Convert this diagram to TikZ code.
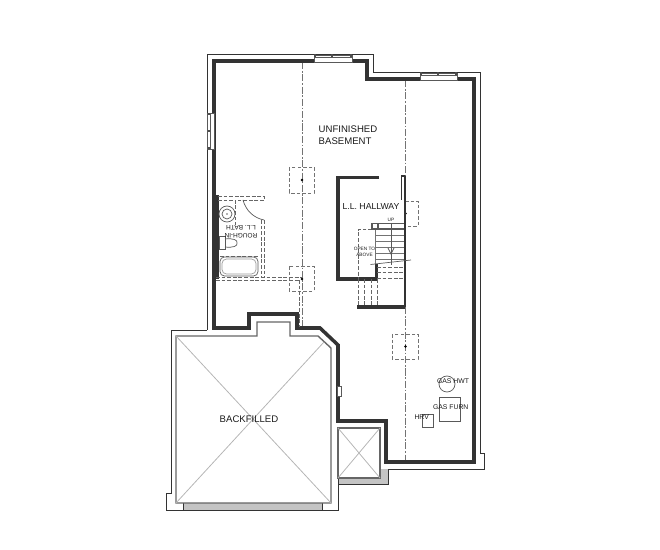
\documentclass[tikz,border=0pt]{standalone}
\usepackage{fontspec}
\setmainfont{Liberation Sans}
\usetikzlibrary{scopes}
\definecolor{wallgrey}{HTML}{333333}
\definecolor{bandgrey}{HTML}{C4C4C4}
\definecolor{xgrey}{HTML}{B5B5B5}
\begin{document}
\begin{tikzpicture}[
    x=0.02cm,y=-0.02cm,
    wall/.style={draw=wallgrey,line width=2pt},
    outer/.style={draw=black!80,line width=0.5pt},
    inner/.style={draw=black!60,line width=0.8pt},
    cross/.style={draw=xgrey,line width=0.45pt},
    beam/.style={draw=black!55,line width=0.4pt,dash pattern=on 4pt off 1pt on 1pt off 1pt},
    post/.style={draw=black!55,line width=0.45pt,dash pattern=on 2pt off 1.2pt},
    partition/.style={draw=black!60,line width=0.55pt,dash pattern=on 2.2pt off 1pt},
    fixture/.style={draw=black!65,line width=0.4pt},
    tread/.style={draw=black!55,line width=0.6pt},
    label/.style={text=black!90,font=\fontsize{5.45pt}{6.6pt}\selectfont,align=left,inner sep=0pt},
    tiny/.style={text=black!90,font=\fontsize{3.9pt}{4.4pt}\selectfont,inner sep=0pt,align=center}
]
    \useasboundingbox (0,0) rectangle (660,550);
    % grey bands
    \fill[bandgrey] (183,503) rectangle (322,510);
    \fill[bandgrey] (338,478) rectangle (388,484);
    \fill[bandgrey] (380,469) rectangle (388,484);
    % outer line
    {[outer]
        \draw (207,330) -- (207,54) -- (373,54) -- (373,72) -- (480,72) -- (480,453) -- (484.5,453)
            -- (484.5,469) -- (388,469) -- (388,484) -- (338,484);
        \draw (207,330) -- (171,330) -- (171,493) -- (166.5,493) -- (166.5,510) -- (338,510) -- (338,428);
        \draw (183,503) -- (183,510);
        \draw (322,503) -- (322,510);
    }
    % backfilled area
    {[inner]
        \draw (176,336) -- (257,336) -- (257,322) -- (290,322) -- (290,336) -- (318,336)
            -- (331,348) -- (331,503) -- (176,503) -- cycle;
        \draw (338,428) rectangle (380,478);
    }
    {[cross]
        \draw (176,336) -- (331,503);
        \draw (176,503) -- (324,342);
        \draw (338,428) -- (380,478);
        \draw (338,478) -- (380,428);
    }
    % beams and posts
    {[beam]
        \draw (302,62) -- (302,327);
        \draw (405.5,80) -- (405.5,176);
        \draw (405.5,307) -- (405.5,461);
    }
    {[post]
        \draw (289,167) rectangle (314,193);
        \draw (289,266) rectangle (314,291);
        \draw (392,334) rectangle (418,359);
        \draw (405,201) -- (418,201) -- (418,226) -- (405,226);
    }
    \foreach \px/\py in {302/180,302/279,405.5/346.5,405.5/213.5}
        \fill[black] (\px,\py) circle (1.4);
    % main walls
    \draw[wall] (214,61) -- (367,61) -- (367,79) -- (474,79) -- (474,462) -- (386,462) -- (386,421)
        -- (338,421) -- (338,345) -- (320,328) -- (297,328) -- (297,314) -- (249,314) -- (249,328)
        -- (214,328) -- cycle;
    \draw[wall] (379,177.5) -- (338,177.5) -- (338,279) -- (376.5,279) -- (376.5,264);
    \draw[wall] (357,307) -- (405,307);
    \fill[wallgrey] (212,195) rectangle (218.5,279);
    \draw[draw=wallgrey,line width=1.2pt] (404.8,176) -- (404.8,307);
    \draw[draw=wallgrey,line width=0.6pt] (401.5,200) -- (401.5,176) -- (405,176);
    % windows
    {[fixture,fill=white]
        \filldraw (314,55) rectangle (352,62.5);
        \filldraw (420,73) rectangle (457,80.5);
        \filldraw (207.5,113) rectangle (214.5,149);
        \filldraw (337.5,386) rectangle (341,396);
    }
    {[fixture]
        \draw (314,57.5) -- (352,57.5);
        \draw (420,75.5) -- (457,75.5);
        \draw (210,113) -- (210,149);
    }
    % bath
    {[partition]
        \draw (218,196) -- (264,196) -- (264,200.5) -- (235,200.5) -- (235,225);
        \draw (218,200.5) -- (235,200.5);
        \draw (261,220) -- (261,277);
        \draw (264,220) -- (264,277);
        \draw (216,277) -- (302,277);
        \draw (216,280) -- (299,280);
        \draw (299,280) -- (299,327);
        \draw (220,256) -- (258,256);
    }
    {[fixture]
        \draw (243,200) .. controls (246,211) and (254,218) .. (264,220);
        \draw (227,214) circle (8);
        \draw (227,214) circle (5);
        \fill[black!60] (227,214) circle (0.9);
        \draw (219,236) rectangle (225,249);
        \draw (225,239) .. controls (233,238) and (238,240) .. (237,243)
            .. controls (238,246) and (233,248) .. (225,247);
        \draw[rounded corners=2.5] (220,257) rectangle (258,276);
        \draw[rounded corners=2.5,draw=black!40] (222,259) rectangle (256,274);
    }
    % equipment
    {[fixture]
        \draw (447,384) circle (8);
        \draw (439,397) rectangle (460.5,421);
        \draw (422.7,414) rectangle (433.7,427);
    }
    % window caps
    \foreach \wx in {315,332,351}
        \fill[black!70] (\wx-1,54.5) rectangle (\wx+1,57.5);
    \foreach \wx in {421,438,456}
        \fill[black!70] (\wx-1,72.5) rectangle (\wx+1,75.5);
    \foreach \wy in {114,131,148}
        \fill[black!70] (207.5,\wy-1) rectangle (210,\wy+1);
    % stair
    \draw[partition] (372,229.5) -- (358,229.5) -- (358,279);
    \foreach \sx in {358,364.5,371,377}
        \draw[partition] (\sx,279) -- (\sx,307);
    \foreach \sy in {267,272.5,278.5}
        \draw[partition] (377,\sy) -- (404,\sy);
    \foreach \sy in {235.7,241.5,247.3,253.3,259.5}
        \draw[tread] (376,\sy) -- (404,\sy);
    \draw[tread] (375.8,229) -- (375.8,264);
    \draw[fixture,line width=0.8pt] (372,223.5) -- (404,223.5);
    \draw[fixture,line width=0.8pt] (372,229) -- (404,229);
    \draw[fixture,line width=0.8pt] (372,223.5) rectangle (378,229);
    \draw[fixture] (370.5,264.5) -- (411,260);
    \draw[fixture] (391,224) -- (391,265);
    \draw[fixture] (388,248) -- (391,254) -- (394,248);
    % labels
    \node[label] (basementlabel) at (348,135) {UNFINISHED\\BASEMENT};
    \node[label,font=\fontsize{4.95pt}{6pt}\selectfont] (hallwaylabel) at (371,207) {L.L. HALLWAY};
    \node[label] (backfilledlabel) at (249,419) {BACKFILLED};
    \node[tiny] (hwtlabel) at (453,381.5) {GAS HWT};
    \node[tiny] (furnlabel) at (450.7,407.5) {GAS FURN};
    \node[tiny] (hrvlabel) at (421.7,417.5) {HRV};
    \node[tiny,rotate=180,font=\fontsize{3.7pt}{4.4pt}\selectfont] (bathlabel) at (241,232) {ROUGH-IN\\L.L. BATH};
    \node[tiny,font=\fontsize{2.7pt}{3.2pt}\selectfont] (openlabel) at (364.5,252) {OPEN TO\\ABOVE};
    \node[tiny,font=\fontsize{2.7pt}{3.2pt}\selectfont] (uplabel) at (391,219.5) {UP};
\end{tikzpicture}
\end{document}
